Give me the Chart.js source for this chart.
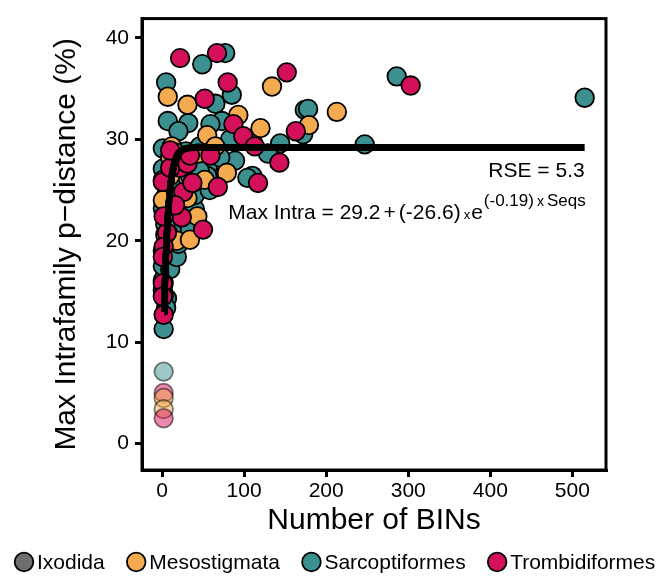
<!DOCTYPE html>
<html>
<head>
<meta charset="utf-8">
<script src="https://cdn.jsdelivr.net/npm/chart.js@4.4.1/dist/chart.umd.min.js"></script>
<style>
  html, body { margin: 0; padding: 0; background: #fff; }
  canvas { display: block; }
</style>
</head>
<body>
<canvas id="binChart" width="656" height="578"></canvas>
<script>
const groups = ['Ixodida', 'Mesostigmata', 'Sarcoptiformes', 'Trombidiformes'];
const groupColors = ['#6e6e6e', '#f4aa4f', '#3c9190', '#d5105a'];
const fadedColors = ['rgba(110,110,110,0.5)', 'rgba(244,170,79,0.5)', 'rgba(60,145,144,0.5)', 'rgba(213,16,90,0.5)'];

// number of BINs / max intrafamily distance, one pair of arrays per order
const ixodidaBins = [];
const ixodidaDist = [];

const mesoBins = [7, 31, 93, 55, 12, 120, 134, 213, 179, 44, 43, 18, 10, 79, 1, 4, 1, 31, 16,
  34, 52, 22, 65, 10];
const mesoDist = [34.2, 33.4, 32.4, 30.4, 29.3, 31.1, 35.2, 32.7, 31.4, 28.6, 22.4, 20.0, 28.2, 26.7, 24.0, 20.6, 26.0, 24.2, 28.7,
  20.1, 26.0, 27.9, 29.3, 26.4];

const sarcoBins = [49, 77, 5, 85, 65, 7, 32, 73, 20, 59, 83, 1, 111, 174, 178, 172, 144, 247, 129, 110,
  286, 515, 2, 34, 46, 4, 37, 13, 1, 89, 104, 67, 2, 6, 1, 1, 1, 10, 18, 2,
  2, 12, 40, 29, 46, 56, 17, 23, 7, 11, 1, 5, 1, 5, 4, 55, 38, 71,
  28, 34, 20, 12, 40, 58, 46, 28, 12];
const sarcoDist = [37.4, 38.5, 35.6, 34.4, 33.5, 31.8, 31.6, 31.8, 30.8, 31.5, 30.0, 29.1, 29.6, 32.9, 33.0, 30.5, 29.6, 29.5, 28.6, 26.4,
  36.2, 34.1, 27.0, 26.4, 25.5, 23.3, 23.2, 21.4, 19.0, 27.9, 26.2, 26.2, 11.3, 14.3, 15.1, 16.1, 17.5, 17.2, 18.4, 15.8,
  14.5, 19.9, 23.1, 28.8, 29.3, 27.4, 22.6, 24.5, 20.8, 25.5, 27.1, 13.4, 23.2, 24.5, 21.6, 26.4, 27.6, 28.2,
  22.1, 21.1, 19.7, 23.0, 24.5, 25.0, 26.9, 27.4, 28.4];

const tromBins = [22, 67, 80, 52, 87, 99, 152, 163, 113, 143, 117, 303, 50, 1, 22, 68, 59, 26, 24, 6,
  2, 1, 2, 1, 1, 10, 37, 2, 31, 16, 34, 10];
const tromDist = [38.0, 38.5, 35.6, 34.0, 31.5, 30.3, 36.6, 30.8, 29.3, 27.7, 25.7, 35.3, 21.1, 25.8, 27.2, 25.3, 28.4, 24.8, 22.3, 20.8,
  12.7, 15.8, 19.4, 18.4, 14.5, 27.2, 25.7, 22.4, 27.6, 23.5, 28.4, 28.9];

// families left out of the fit (drawn faded)
const excludedBins = [2, 2, 2, 2, 2];
const excludedDist = [7.1, 5.0, 4.5, 3.4, 2.5];
const excludedGroup = [2, 3, 1, 1, 3];

const xTicks = [0, 100, 200, 300, 400, 500];
const yTicks = [0, 10, 20, 30, 40];

// Max Intra = a + b * e^(c * Seqs)
const fitA = 29.2, fitB = -26.6, fitC = -0.19;
const rse = 5.3;
const fitFrom = 2.6, fitTo = 515;

const family = '"Liberation Sans", Arial, Helvetica, sans-serif';

const pts = (xs, ys) => xs.map((x, i) => ({ x: x, y: ys[i] }));

const fitLine = [];
for (let x = fitFrom; x < 40; x += 0.2) fitLine.push({ x: x, y: fitA + fitB * Math.exp(fitC * x) });
for (let x = 40; x < fitTo; x += 5) fitLine.push({ x: x, y: fitA + fitB * Math.exp(fitC * x) });
fitLine.push({ x: fitTo, y: fitA + fitB * Math.exp(fitC * fitTo) });

function groupSet(i, xs, ys, order) {
  return {
    type: 'scatter',
    label: groups[i],
    data: pts(xs, ys),
    backgroundColor: groupColors[i],
    borderColor: '#000',
    borderWidth: 1.8,
    pointRadius: 9.3,
    pointHoverRadius: 9.3,
    order: order
  };
}

// box around the plot panel
const frame = {
  id: 'frame',
  afterDatasetsDraw(chart) {
    const { left, top, right, bottom } = chart.chartArea;
    const ctx = chart.ctx;
    ctx.save();
    ctx.lineWidth = 3;
    ctx.strokeStyle = '#000';
    ctx.strokeRect(left, top, right - left, bottom - top);
    ctx.restore();
  }
};

// RSE and the fitted equation, placed under the plateau of the curve
const fitText = {
  id: 'fitText',
  afterDraw(chart) {
    const ctx = chart.ctx;
    const xs = chart.scales.x, ys = chart.scales.y;
    const right = xs.getPixelForValue(fitTo);
    const plateau = ys.getPixelForValue(fitA);
    ctx.save();
    ctx.fillStyle = '#000';
    ctx.textBaseline = 'alphabetic';

    ctx.font = '21px ' + family;
    ctx.textAlign = 'right';
    ctx.fillText('RSE = ' + rse, right, plateau + 30);

    ctx.textAlign = 'left';
    const base = plateau + 72;
    const sup = base - 13;
    const parts = [
      { t: 'Max Intra = ' + fitA, s: 21, y: base, gap: 3 },
      { t: '+', s: 21, y: base, gap: 3 },
      { t: '(' + fitB + ')', s: 21, y: base, gap: 3 },
      { t: 'x', s: 13, y: base, gap: 1 },
      { t: 'e', s: 21, y: base, gap: 1 },
      { t: '(' + fitC + ')', s: 17, y: sup, gap: 3 },
      { t: 'x', s: 14, y: sup, gap: 3 },
      { t: 'Seqs', s: 17, y: sup, gap: 0 }
    ];
    let total = 0;
    parts.forEach(p => {
      ctx.font = p.s + 'px ' + family;
      p.w = ctx.measureText(p.t).width;
      total += p.w + p.gap;
    });
    let x = right + 1 - total;
    parts.forEach(p => {
      ctx.font = p.s + 'px ' + family;
      ctx.fillText(p.t, x, p.y);
      x += p.w + p.gap;
    });
    ctx.restore();
  }
};

// single-row legend along the bottom edge
const legendRow = {
  id: 'legendRow',
  afterDraw(chart) {
    const ctx = chart.ctx;
    const y = chart.height - 16;
    let x = 24;
    ctx.save();
    ctx.font = '21px ' + family;
    ctx.textBaseline = 'middle';
    groups.forEach((name, i) => {
      ctx.beginPath();
      ctx.arc(x, y, 9.3, 0, Math.PI * 2);
      ctx.fillStyle = groupColors[i];
      ctx.fill();
      ctx.lineWidth = 1.8;
      ctx.strokeStyle = '#000';
      ctx.stroke();
      ctx.fillStyle = '#000';
      ctx.fillText(name, x + 13, y + 1);
      x += 13 + ctx.measureText(name).width + 22 + 9.5;
    });
    ctx.restore();
  }
};

const ctx = document.getElementById('binChart').getContext('2d');
const binChart = new Chart(ctx, {
  data: {
    datasets: [
      {
        type: 'line',
        label: 'fit',
        data: fitLine,
        borderColor: '#000',
        borderWidth: 7,
        borderCapStyle: 'butt',
        borderJoinStyle: 'round',
        pointRadius: 0,
        tension: 0,
        fill: false,
        order: 0
      },
      groupSet(3, tromBins, tromDist, 1),
      groupSet(1, mesoBins, mesoDist, 2),
      groupSet(2, sarcoBins, sarcoDist, 3),
      groupSet(0, ixodidaBins, ixodidaDist, 4),
      {
        type: 'scatter',
        label: 'excluded',
        data: pts(excludedBins, excludedDist),
        backgroundColor: excludedGroup.map(g => fadedColors[g]),
        borderColor: 'rgba(0,0,0,0.5)',
        borderWidth: 1.8,
        pointRadius: 9.3,
        order: 5
      }
    ]
  },
  options: {
    responsive: false,
    animation: false,
    devicePixelRatio: 1,
    layout: { padding: { top: 10, right: 50, bottom: 0, left: 0 } },
    plugins: {
      legend: { display: false },
      tooltip: { enabled: false }
    },
    scales: {
      x: {
        type: 'linear',
        min: -24.4,
        max: 541,
        afterBuildTicks: s => { s.ticks = xTicks.map(v => ({ value: v })); },
        afterFit: s => { s.height = 108; },
        grid: { drawOnChartArea: false, drawTicks: true, tickLength: 7, tickWidth: 3, lineWidth: 3, tickColor: '#000' },
        border: { display: true, color: '#000', width: 3 },
        ticks: { color: '#000', font: { size: 21, family: family }, padding: 2, maxRotation: 0 },
        title: {
          display: true,
          text: 'Number of BINs',
          color: '#000',
          font: { size: 30, family: family },
          padding: { top: 0, bottom: 39 }
        }
      },
      y: {
        type: 'linear',
        min: -2.6,
        max: 41.9,
        afterBuildTicks: s => { s.ticks = yTicks.map(v => ({ value: v })); },
        afterFit: s => { s.width = 142; },
        grid: { drawOnChartArea: false, drawTicks: true, tickLength: 7, tickWidth: 3, lineWidth: 3, tickColor: '#000' },
        border: { display: true, color: '#000', width: 3 },
        ticks: { color: '#000', font: { size: 21, family: family }, padding: 6 },
        title: {
          display: true,
          text: 'Max Intrafamily p\u2212distance (%)',
          color: '#000',
          font: { size: 30, family: family },
          padding: { top: 49, bottom: 0 }
        }
      }
    }
  },
  plugins: [frame, fitText, legendRow]
});
</script>
</body>
</html>
